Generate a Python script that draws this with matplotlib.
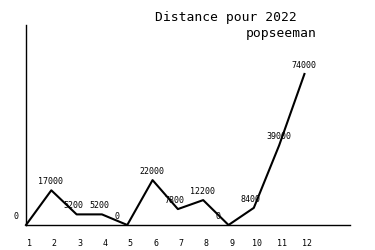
import matplotlib
matplotlib.use("Agg")
import matplotlib.pyplot as plt
import matplotlib.transforms as mtransforms

# distance par mois
months = [1, 2, 3, 4, 5, 6, 7, 8, 9, 10, 11, 12]
distance = [0, 17000, 5200, 5200, 0, 22000, 7800, 12200, 0, 8400, 39000, 74000]
month_labels = [str(m) for m in months]

plt.rcParams['font.family'] = ['DejaVu Sans Mono']

fig = plt.figure(figsize=(3.75, 2.5), dpi=100)
ax = fig.add_axes([26 / 375, 0.1, 324 / 375, 0.8])

ax.plot(months, distance, color='black', linewidth=1.5, clip_on=False)

ax.set_xlim(1, 13.8)
ax.set_ylim(0, 98000)

for s in ['top', 'right']:
    ax.spines[s].set_visible(False)
ax.spines['left'].set_linewidth(1)
ax.spines['bottom'].set_linewidth(1)

ax.set_yticks([])
ax.set_xticks(months)
ax.set_xticklabels(month_labels, fontsize=6)
ax.tick_params(axis='x', length=0, pad=10)
shift = mtransforms.ScaledTranslation(3 / 100, 0, fig.dpi_scale_trans)
for lbl in ax.get_xticklabels():
    lbl.set_transform(lbl.get_transform() + shift)

# valeurs au dessus des points
for x, y in zip(months, distance):
    ax.annotate(f'{y}', (x, y), xytext=(-13, 4), textcoords='offset pixels',
                ha='left', va='bottom', fontsize=6, annotation_clip=False)

fig.text(155 / 375, 1 - 18 / 250, 'Distance pour 2022', fontsize=9.4,
         ha='left', va='center')
fig.text(317 / 375, 1 - 33 / 250, 'popseeman', fontsize=9.4,
         ha='right', va='center')

fig.savefig('out.png', dpi=100)
plt.close(fig)
